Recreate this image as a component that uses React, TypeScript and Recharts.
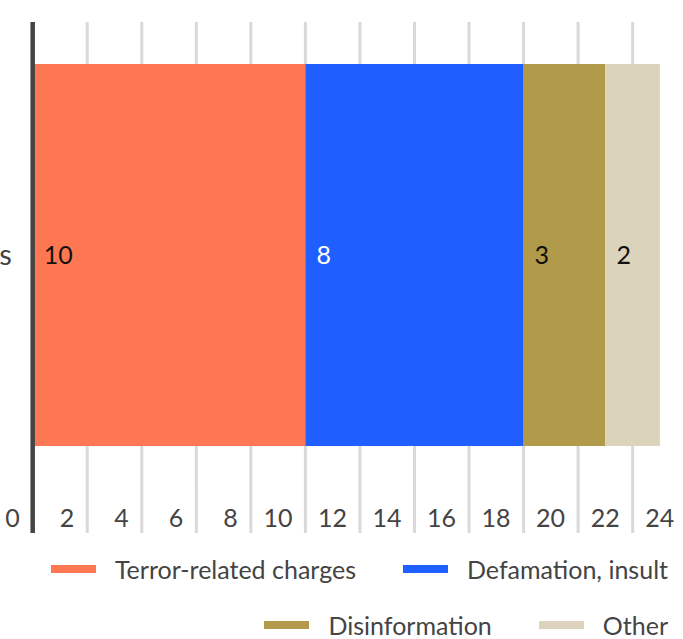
import { Bar, BarChart, CartesianGrid, LabelList, Legend, XAxis, YAxis } from "recharts";

const categories = ["Journalists"];
const terrorCharges = [10];
const defamation = [8];
const disinformation = [3];
const other = [2];
const xTicks = [0, 2, 4, 6, 8, 10, 12, 14, 16, 18, 20, 22, 24];

const series = [
  { key: "terror", name: "Terror-related charges", color: "#fd7753", label: "#111" },
  { key: "defamation", name: "Defamation, insult", color: "#1f5fff", label: "#fff" },
  { key: "disinformation", name: "Disinformation", color: "#b19b4a", label: "#111" },
  { key: "other", name: "Other", color: "#dcd3bd", label: "#111" },
];

const data = categories.map((name, i) => ({
  name,
  terror: terrorCharges[i],
  defamation: defamation[i],
  disinformation: disinformation[i],
  other: other[i],
}));

const FONT = "Lato, 'Liberation Sans', sans-serif";
const TEXT = "#444";

const XTick = (props: any) => {
  const { x, y, payload } = props;
  const isZero = payload.value === 0;
  return (
    <g>
      <line
        x1={x}
        x2={x}
        y1={y}
        y2={y + 45}
        stroke={isZero ? "#444" : "#d9d9d9"}
        strokeWidth={isZero ? 4.5 : 3}
      />
      <text x={x - 13} y={y + 39} textAnchor="end" fill={TEXT} fontSize={25} fontFamily={FONT}>
        {payload.value}
      </text>
    </g>
  );
};

const YTick = (props: any) => {
  const { x, y, payload } = props;
  return (
    <text x={x - 21} y={y} dy={10} textAnchor="end" fill={TEXT} fontSize={29} fontFamily={FONT}>
      {payload.value}
    </text>
  );
};

const LegendContent = () => (
  <div
    style={{
      width: 683,
      height: 106,
      boxSizing: "border-box",
      paddingRight: 15,
      paddingTop: 19,
      display: "flex",
      flexWrap: "wrap",
      justifyContent: "flex-end",
      columnGap: 47,
      rowGap: 22,
      fontFamily: FONT,
      fontSize: 25,
      color: TEXT,
    }}
  >
    {series.map((s) => (
      <div key={s.key} style={{ display: "flex", alignItems: "center", height: 34 }}>
        <span style={{ width: 45, height: 8, background: s.color, marginRight: 19 }} />
        <span style={{ whiteSpace: "nowrap" }}>{s.name}</span>
      </div>
    ))}
  </div>
);

export default function App() {
  return (
    <div
      style={{
        position: "fixed",
        left: 0,
        top: 0,
        width: 683,
        height: 639,
        overflow: "hidden",
        background: "#fff",
      }}
    >
      <BarChart
        width={700}
        height={639}
        data={data}
        layout="vertical"
        margin={{ top: 22, right: 12.8, bottom: 0, left: 0 }}
      >
        <CartesianGrid horizontal={false} stroke="#d9d9d9" strokeWidth={3} />
        <XAxis
          type="number"
          domain={[0, 24]}
          ticks={xTicks}
          interval={0}
          height={45}
          axisLine={false}
          tickLine={false}
          tickSize={0}
          tickMargin={0}
          tick={<XTick />}
        />
        <YAxis
          type="category"
          dataKey="name"
          width={32.7}
          axisLine={{ stroke: "#444", strokeWidth: 4.5 }}
          tickLine={false}
          tickSize={0}
          tickMargin={0}
          tick={<YTick />}
        />
        <Legend verticalAlign="bottom" wrapperStyle={{ left: 0, width: 683 }} content={<LegendContent />} />
        {series.map((s) => (
          <Bar
            key={s.key}
            dataKey={s.key}
            name={s.name}
            stackId="a"
            fill={s.color}
            barSize={382}
            isAnimationActive={false}
          >
            <LabelList
              dataKey={s.key}
              position="insideLeft"
              offset={11}
              fill={s.label}
              fontSize={25}
              fontFamily={FONT}
            />
          </Bar>
        ))}
      </BarChart>
    </div>
  );
}
